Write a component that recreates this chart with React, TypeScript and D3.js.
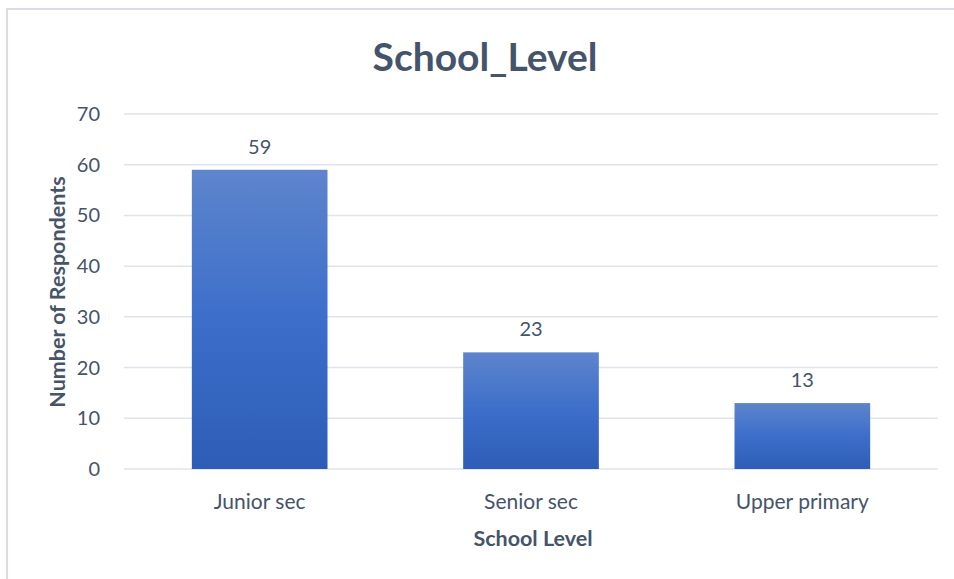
import React from 'react';
import * as d3 from 'd3';

// chart data
const categories = ['Junior sec', 'Senior sec', 'Upper primary'];
const respondents = [59, 23, 13];
const yTicks = [0, 10, 20, 30, 40, 50, 60, 70];

const W = 954;
const H = 579;
const textColor = '#44546A';
const font = 'Lato, "Open Sans", sans-serif';

const App = () => {
    const x = d3.scaleBand<string>()
        .domain(categories)
        .range([124, 938])
        .paddingInner(0.5)
        .paddingOuter(0.25);

    const y = d3.scaleLinear().domain([0, 70]).range([469, 114]);

    return (
        <svg width={W} height={H} style={{ position: 'absolute', left: 0, top: 0 }}>
            <defs>
                <linearGradient id="barFill" x1="0" y1="0" x2="0" y2="1">
                    <stop offset="0" stopColor="#5E85CC" />
                    <stop offset="0.5" stopColor="#3C6ECA" />
                    <stop offset="1" stopColor="#2D5DB6" />
                </linearGradient>
            </defs>
            <rect x={0} y={0} width={W} height={H} fill="#fff" />
            {/* chart border */}
            <rect x={7} y={9} width={W + 10} height={H + 10} fill="none" stroke="#D9DDE3" strokeWidth={2} />

            <text x={485} y={71} textAnchor="middle" fontFamily={font} fontWeight="bold"
                fontSize={39} fill={textColor}>School_Level</text>

            {/* gridlines */}
            {yTicks.map(t => (
                <line key={'g' + t} x1={124} x2={938} y1={y(t)} y2={y(t)} stroke="#DFE3EA" strokeWidth={1.5} />
            ))}

            {/* y ticks */}
            {yTicks.map(t => (
                <text key={'t' + t} x={100} y={y(t)} dy="0.35em" textAnchor="end" fontFamily={font}
                    fontSize={20} fill={textColor}>{t}</text>
            ))}

            {/* bars */}
            {categories.map((c, i) => (
                <rect key={c} x={x(c)} y={y(respondents[i])} width={x.bandwidth()}
                    height={y(0) - y(respondents[i])} fill="url(#barFill)" />
            ))}

            {/* value labels */}
            {categories.map((c, i) => (
                <text key={'v' + c} x={x(c)! + x.bandwidth() / 2} y={y(respondents[i]) - 16}
                    textAnchor="middle" fontFamily={font} fontSize={20} fill={textColor}>{respondents[i]}</text>
            ))}

            {/* category labels */}
            {categories.map(c => (
                <text key={'c' + c} x={x(c)! + x.bandwidth() / 2} y={509} textAnchor="middle"
                    fontFamily={font} fontSize={21} fill={textColor}>{c}</text>
            ))}

            <text x={533} y={546} textAnchor="middle" fontFamily={font} fontWeight="bold"
                fontSize={21.5} fill={textColor}>School Level</text>

            <text transform="translate(65,292) rotate(-90)" textAnchor="middle" fontFamily={font}
                fontWeight="bold" fontSize={21.5} fill={textColor}>Number of Respondents</text>
        </svg>
    );
};

export default App;
